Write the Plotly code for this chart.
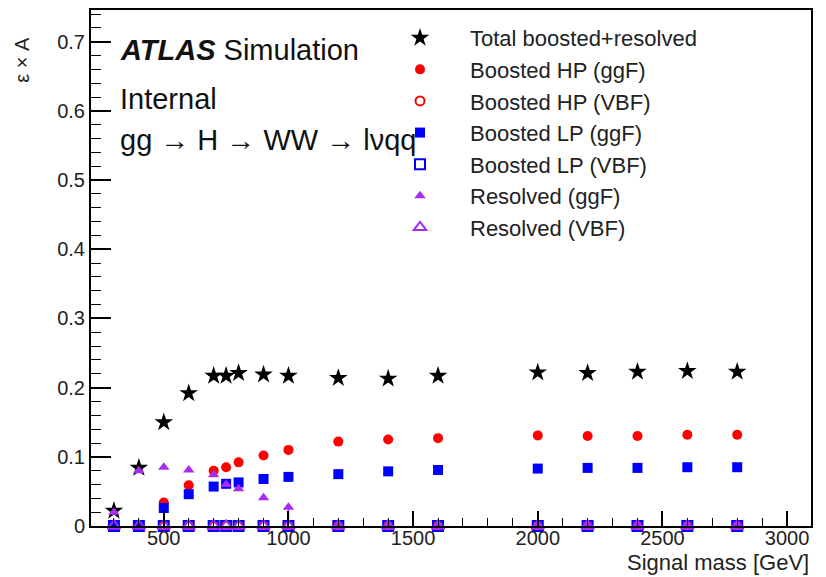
import plotly.graph_objects as go

# ---------------- data ----------------
mass = [300, 400, 500, 600, 700, 750, 800, 900, 1000, 1200, 1400, 1600,
        2000, 2200, 2400, 2600, 2800]

total = [0.022, 0.084, 0.150, 0.192, 0.217, 0.217, 0.221, 0.219, 0.217,
         0.214, 0.213, 0.217, 0.222, 0.221, 0.223, 0.224, 0.223]
hp_ggf = [0.0, 0.0, 0.034, 0.059, 0.080, 0.085, 0.092, 0.102, 0.110,
          0.122, 0.125, 0.127, 0.131, 0.130, 0.130, 0.132, 0.132]
hp_vbf = [0.0] * 17
lp_ggf = [0.0, 0.0, 0.026, 0.046, 0.057, 0.061, 0.063, 0.068, 0.071,
          0.075, 0.079, 0.081, 0.083, 0.084, 0.084, 0.085, 0.085]
lp_vbf = [0.0] * 17
res_ggf = [0.020, 0.080, 0.085, 0.081, 0.074, 0.060, 0.054, 0.041, 0.027,
           0.0, 0.0, 0.0, 0.0, 0.0, 0.0, 0.0, 0.0]
res_vbf = [0.0] * 17

lp_ggf_errlo = [0, 0, 0.026, 0, 0, 0, 0, 0, 0, 0, 0, 0, 0, 0, 0, 0, 0]
res_ggf_errlo = [0, 0, 0, 0, 0, 0, 0, 0, 0.022, 0, 0, 0, 0, 0, 0, 0, 0]

names = ["Total boosted+resolved", "Boosted HP (ggF)", "Boosted HP (VBF)",
         "Boosted LP (ggF)", "Boosted LP (VBF)", "Resolved (ggF)", "Resolved (VBF)"]

y_ticks = [0, 0.1, 0.2, 0.3, 0.4, 0.5, 0.6, 0.7]
y_ticklabels = ["0", "0.1", "0.2", "0.3", "0.4", "0.5", "0.6", "0.7"]
x_ticks = [500, 1000, 1500, 2000, 2500, 3000]

# ---------------- styles ----------------
RED = "#ff0000"
BLUE = "#0000ff"
PURPLE = "#a92cf2"
FONT = "Liberation Sans, Arial, Helvetica, sans-serif"

series = [
    (total, names[0], "star", "black", 14, None),
    (hp_ggf, names[1], "circle", RED, 10, None),
    (hp_vbf, names[2], "circle-open", RED, 9, None),
    (lp_ggf, names[3], "square", BLUE, 10, lp_ggf_errlo),
    (lp_vbf, names[4], "square-open", BLUE, 10, None),
    (res_ggf, names[5], "triangle-up", PURPLE, 10, res_ggf_errlo),
    (res_vbf, names[6], "triangle-up-open", PURPLE, 11, None),
]

fig = go.Figure()
for i, (vals, nm, sym, col, sz, elo) in enumerate(series):
    kw = {}
    if elo is not None:
        kw["error_y"] = dict(type="data", symmetric=False, array=[0] * len(elo),
                             arrayminus=elo, color=col, thickness=1.5, width=0)
    fig.add_trace(go.Scatter(
        x=mass, y=vals, mode="markers", name=nm, legendgroup=f"g{i}",
        marker=dict(symbol=sym, color=col, size=sz,
                    line=dict(color=col, width=2 if "open" in sym else 0)),
        cliponaxis=False, **kw))

axis_common = dict(showline=True, linecolor="black", linewidth=2, mirror=True,
                   ticks="inside", tickcolor="black", tickwidth=1.5,
                   showgrid=False, zeroline=False,
                   tickfont=dict(family=FONT, size=20, color="#222"))

fig.update_xaxes(range=[208, 3096], tickvals=x_ticks, ticklen=15,
                 ticklabelstandoff=-7,
                 minor=dict(ticks="inside", dtick=100, tick0=0, ticklen=8,
                            tickwidth=1.2, tickcolor="black", showgrid=False),
                 **axis_common)
fig.update_yaxes(range=[0, 0.746], tickvals=y_ticks, ticktext=y_ticklabels,
                 ticklen=20,
                 minor=dict(ticks="inside", dtick=0.02, tick0=0, ticklen=10,
                            tickwidth=1.2, tickcolor="black", showgrid=False),
                 **axis_common)

annots = [
    dict(text="<b><i>ATLAS</i></b> Simulation", x=0.0375, y=0.9229, size=29),
    dict(text="Internal", x=0.0375, y=0.8284, size=29),
    dict(text="gg → H → WW → lνqq", x=0.0375, y=0.7484, size=29),
]
for a in annots:
    fig.add_annotation(text=a["text"], x=a["x"], y=a["y"], xref="paper", yref="paper",
                       xanchor="left", yanchor="middle", showarrow=False,
                       font=dict(family=FONT, size=a["size"], color="#111"))

fig.add_annotation(text="Signal mass [GeV]", x=1.0, y=-0.0704, xref="paper", yref="paper",
                   xanchor="right", yanchor="middle", showarrow=False,
                   font=dict(family=FONT, size=22, color="#222"))
fig.add_annotation(text="ε × A", x=-0.0958, y=0.952, xref="paper", yref="paper",
                   xanchor="center", yanchor="top", textangle=-90, showarrow=False,
                   font=dict(family=FONT, size=20, color="#222"))

fig.update_layout(
    width=826, height=577,
    margin=dict(l=91, r=15, t=8, b=50.5),
    paper_bgcolor="white", plot_bgcolor="white",
    showlegend=True,
    legend=dict(x=0.3875, y=0.9865, xanchor="left", yanchor="top",
                bgcolor="rgba(0,0,0,0)", borderwidth=0, itemwidth=90,
                tracegroupgap=0, itemsizing="trace",
                font=dict(family=FONT, size=22, color="#222")),
)

fig.write_html("out.html")
